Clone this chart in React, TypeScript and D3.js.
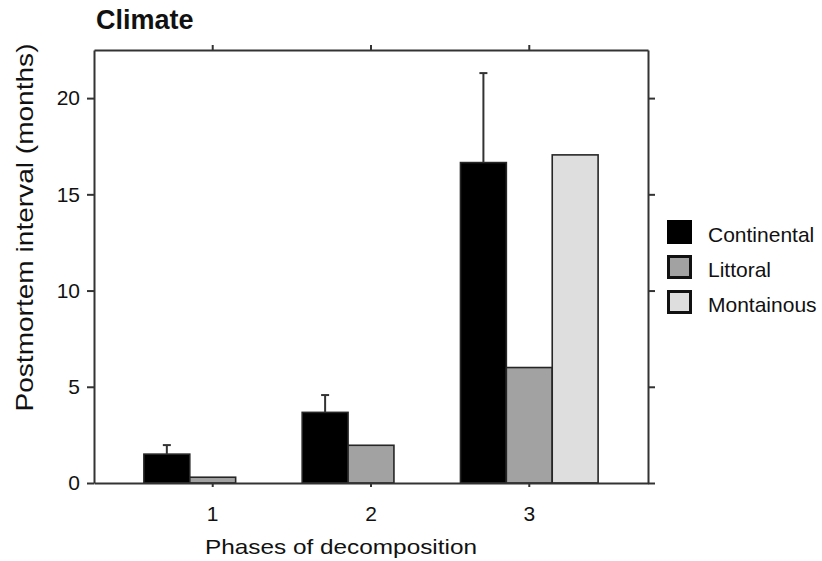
import React, { useEffect, useRef } from 'react';
import * as d3 from 'd3';

const phases = ['1', '2', '3'];
const seriesNames = ['Continental', 'Littoral', 'Montainous'];
const continental = [1.5, 3.67, 16.65];
const continentalSd = [0.47, 0.9, 4.65];
const littoral = [0.3, 1.96, 6.0];
const montainous = [null, null, 17.05];
const yTicks = [0, 5, 10, 15, 20];
const colors = ['#000000', '#a2a2a2', '#dedede'];

const W = 822;
const H = 561;
const margin = { top: 50, right: 174, bottom: 78, left: 94 };
const width = W - margin.left - margin.right;
const height = H - margin.top - margin.bottom;
const font = '"Liberation Sans", Arial, Helvetica, sans-serif';
const axisColor = '#333';

const App = () => {
  const ref = useRef<SVGSVGElement>(null);

  useEffect(() => {
    const root = d3.select(ref.current);
    root.selectAll('*').remove();

    const values = [continental, littoral, montainous];
    const data = phases.map((p, i) => ({
      phase: p,
      bars: seriesNames.map((s, j) => ({ key: s, value: values[j][i], idx: j })),
    }));

    const x = d3.scaleBand().domain(phases).range([0, width])
      .paddingInner(0).paddingOuter(0.25);
    const x1 = d3.scaleBand().domain(seriesNames).range([0, x.bandwidth()])
      .paddingInner(0).paddingOuter(0.225);
    const y = d3.scaleLinear().domain([0, 22.5]).range([height, 0]);

    // title
    root.append('text')
      .attr('x', 96).attr('y', 29)
      .attr('font-family', font).attr('font-weight', 'bold')
      .attr('font-size', 27).attr('fill', '#111')
      .text('Climate');

    const svg = root.append('g')
      .attr('transform', `translate(${margin.left},${margin.top})`);

    // bars
    const groups = svg.selectAll('g.grp')
      .data(data)
      .enter()
      .append('g')
      .attr('class', 'grp')
      .attr('transform', (d) => `translate(${x(d.phase)},0)`);

    groups.selectAll('rect')
      .data((d) => d.bars.filter((b) => b.value != null))
      .enter()
      .append('rect')
      .attr('x', (b) => x1(b.key))
      .attr('y', (b) => y(b.value))
      .attr('width', x1.bandwidth())
      .attr('height', (b) => height - y(b.value))
      .attr('fill', (b) => colors[b.idx])
      .attr('stroke', '#262626')
      .attr('stroke-width', 1.6);

    // error bars (upper only) for Continental
    const ex = (i) => x(phases[i]) + x1('Continental') + x1.bandwidth() / 2;
    phases.forEach((p, i) => {
      const top = y(continental[i] + continentalSd[i]);
      svg.append('line')
        .attr('x1', ex(i)).attr('x2', ex(i))
        .attr('y1', y(continental[i])).attr('y2', top)
        .attr('stroke', axisColor).attr('stroke-width', 2);
      svg.append('line')
        .attr('x1', ex(i) - 4).attr('x2', ex(i) + 4)
        .attr('y1', top).attr('y2', top)
        .attr('stroke', axisColor).attr('stroke-width', 2);
    });

    // axes
    const styleAxis = (g) => {
      g.selectAll('path.domain').attr('stroke', axisColor).attr('stroke-width', 2);
      g.selectAll('.tick line').attr('stroke', axisColor).attr('stroke-width', 2);
      g.selectAll('.tick text')
        .attr('font-family', font).attr('font-size', 21).attr('fill', '#111');
    };

    svg.append('g')
      .call(d3.axisLeft(y).tickValues(yTicks).tickSize(7).tickSizeOuter(0).tickPadding(7))
      .call(styleAxis);

    svg.append('g')
      .attr('transform', `translate(${width},0)`)
      .call(d3.axisRight(y).tickValues(yTicks).tickSize(7).tickSizeOuter(0).tickFormat(() => ''))
      .call(styleAxis);

    svg.append('g')
      .call(d3.axisTop(x).tickSize(5).tickSizeOuter(0).tickFormat(() => ''))
      .call(styleAxis);

    svg.append('g')
      .attr('transform', `translate(0,${height})`)
      .call(d3.axisBottom(x).tickSize(4).tickSizeOuter(0).tickPadding(19))
      .call(styleAxis);

    // axis titles
    root.append('text')
      .attr('transform', `translate(33,${(42 + 413) / 2}) rotate(-90)`)
      .attr('text-anchor', 'middle')
      .attr('font-family', font).attr('font-size', 24).attr('fill', '#111')
      .attr('textLength', 368).attr('lengthAdjust', 'spacingAndGlyphs')
      .text('Postmortem interval (months)');

    root.append('text')
      .attr('x', 341).attr('y', 554)
      .attr('text-anchor', 'middle')
      .attr('font-family', font).attr('font-size', 21).attr('fill', '#111')
      .attr('textLength', 272).attr('lengthAdjust', 'spacingAndGlyphs')
      .text('Phases of decomposition');

    // legend
    const legend = root.append('g').attr('transform', 'translate(667,220)');
    const item = legend.selectAll('g')
      .data(seriesNames)
      .enter()
      .append('g')
      .attr('transform', (d, i) => `translate(0,${i * 35})`);
    item.append('rect')
      .attr('x', (d, i) => (i === 0 ? 0 : 1.5))
      .attr('y', (d, i) => (i === 0 ? 0 : 1.5))
      .attr('width', (d, i) => (i === 0 ? 25 : 22))
      .attr('height', (d, i) => (i === 0 ? 24 : 21))
      .attr('fill', (d, i) => colors[i])
      .attr('stroke', (d, i) => (i === 0 ? 'none' : '#111'))
      .attr('stroke-width', 3);
    item.append('text')
      .attr('x', 41).attr('y', 22)
      .attr('font-family', font).attr('font-size', 21).attr('fill', '#111')
      .text((d) => d);
  }, []);

  return (
    <svg
      ref={ref}
      width={W}
      height={H}
      style={{ position: 'absolute', left: 0, top: 0, background: '#fff' }}
    />
  );
};

export default App;
